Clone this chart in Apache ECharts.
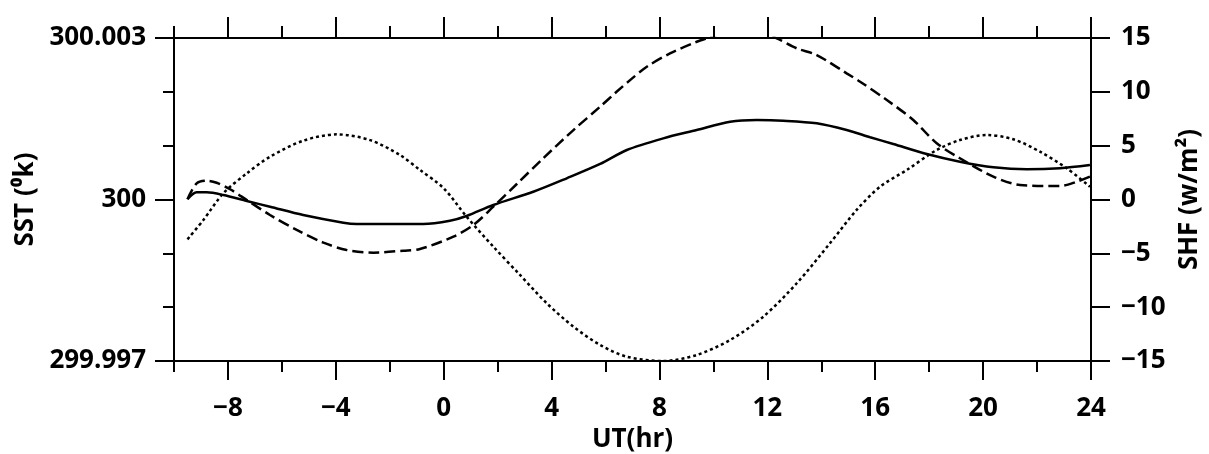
<!DOCTYPE html>
<html>
<head>
<meta charset="utf-8">
<script src="https://cdn.jsdelivr.net/npm/echarts@6/dist/echarts.min.js"></script>
<style>
html,body{margin:0;padding:0;background:#fff;}
#chart{width:1209px;height:454px;}
</style>
</head>
<body>
<div id="chart"></div>
<script>
// UT (hr) sample positions and values
const sstHours = [-9.5, -9.16, -8.79, -8.17, -7.3, -6.44, -5.21, -3.72, -3.23, -1.25, -0.76, 0.23, 0.85, 1.84, 3.32, 4.56, 5.8, 6.79, 8.14, 9.38, 10.62, 11.61, 12.59, 13.83, 14.94, 15.81, 16.67, 17.91, 19.14, 20.38, 21.62, 22.85, 23.96];
const sstValues = [300.000004, 300.000134, 300.000134, 300.000084, 299.999972, 299.999866, 299.999712, 299.99957, 299.999546, 299.999546, 299.999546, 299.999606, 299.999694, 299.999898, 300.000144, 300.000394, 300.00066, 300.00092, 300.001136, 300.00129, 300.001444, 300.001476, 300.001464, 300.001416, 300.00129, 300.001156, 300.00103, 300.000844, 300.000702, 300.000598, 300.00056, 300.00058, 300.00064];

const shfHours = [-9.5, -9.16, -8.79, -8.42, -7.92, -7.3, -6.44, -5.45, -4.46, -3.6, -2.61, -1.5, -0.88, 0.36, 1.1, 1.84, 2.71, 3.69, 4.81, 5.8, 6.41, 6.91, 7.53, 8.39, 9.38, 9.87, 10.5, 11.1, 11.7, 12.35, 13.09, 13.83, 14.94, 15.44, 16.43, 17.41, 18.28, 19.14, 20.38, 21.37, 22.85, 23.47, 23.96];
const shfValues = [0.02, 1.5, 1.75, 1.56, 0.95, -0.05, -1.44, -2.83, -4.01, -4.69, -4.94, -4.75, -4.6, -3.45, -2.37, -0.67, 1.44, 3.83, 6.45, 8.62, 10.01, 11.09, 12.33, 13.57, 14.65, 15.06, 15.6, 15.8, 15.6, 14.97, 14.04, 13.42, 11.72, 10.94, 9.24, 7.38, 5.22, 3.83, 2.12, 1.35, 1.25, 1.65, 2.12];

const dotHours = [-9.5, -8.91, -8.17, -7.3, -6.44, -5.21, -3.97, -2.73, -1.62, -0.88, 0.0, 0.85, 1.84, 2.83, 3.82, 4.81, 5.8, 6.79, 8.14, 9.38, 10.62, 11.85, 13.09, 14.32, 15.31, 16.18, 17.17, 18.28, 19.14, 20.13, 21.12, 22.11, 23.1, 23.96];
const dotValues = [-3.7, -1.9, 0.58, 2.43, 3.97, 5.46, 6.05, 5.52, 4.13, 2.74, 1.04, -1.6, -4.38, -7.01, -9.64, -11.81, -13.51, -14.6, -15.0, -14.44, -13.05, -10.88, -7.78, -4.07, -0.97, 1.19, 2.74, 4.6, 5.52, 5.99, 5.59, 4.44, 2.9, 1.19];

const xMajorTicks = [-8, -4, 0, 4, 8, 12, 16, 20, 24];

const pair = (xs, ys) => xs.map((x, i) => [x, ys[i]]);
const fmtNum = v => (v < 0 ? '\u2212' + String(-v) : String(v));

const FONT = 'Open Sans';
const black = '#000';
const lblStyle = {color: black, fontFamily: FONT, fontSize: 26, fontWeight: 'bold'};
const lineW = 2;

function xAxisBase(pos) {
  return {
    type: 'value', position: pos, min: -10, max: 24, interval: 2,
    axisLine: {show: true, onZero: false, lineStyle: {color: black, width: lineW}},
    axisTick: {show: true, inside: false, length: 11, lineStyle: {color: black, width: lineW}},
    axisLabel: {show: false},
    splitLine: {show: false}
  };
}

const chart = echarts.init(document.getElementById('chart'), null, {renderer: 'canvas'});
chart.setOption({
  animation: false,
  backgroundColor: '#fff',
  grid: {left: 174, right: 118, top: 38, bottom: 93, containLabel: false, outerBoundsMode: 'none'},
  xAxis: [
    Object.assign(xAxisBase('bottom'), {
      name: 'UT(hr)', nameLocation: 'middle', nameGap: 64,
      nameTextStyle: lblStyle,
      axisLabel: {show: true, margin: 35, customValues: xMajorTicks,
        formatter: v => fmtNum(v), ...lblStyle}
    }),
    Object.assign(xAxisBase('bottom'), {
      axisLine: {show: false, onZero: false},
      axisTick: {show: true, length: 19, customValues: xMajorTicks, lineStyle: {color: black, width: lineW}}
    }),
    Object.assign(xAxisBase('top'), {axisTick: {show: true, length: 12, lineStyle: {color: black, width: lineW}}}),
    Object.assign(xAxisBase('top'), {
      axisLine: {show: false, onZero: false},
      axisTick: {show: true, length: 21, customValues: xMajorTicks, lineStyle: {color: black, width: lineW}}
    })
  ],
  yAxis: [
    {
      type: 'value', position: 'left', min: 299.997, max: 300.003, interval: 0.003,
      name: 'SST (\u2070k)', nameLocation: 'middle', nameRotate: 90, nameGap: 132,
      nameTextStyle: lblStyle,
      axisLine: {show: true, onZero: false, lineStyle: {color: black, width: lineW}},
      axisTick: {show: true, length: 19, lineStyle: {color: black, width: lineW}},
      minorTick: {show: true, splitNumber: 3, length: 11, lineStyle: {color: black, width: lineW}},
      axisLabel: {show: true, margin: 28, formatter: v => String(+v.toFixed(3)), ...lblStyle},
      splitLine: {show: false}, minorSplitLine: {show: false}
    },
    {
      type: 'value', position: 'right', min: -15, max: 15, interval: 5,
      name: 'SHF (w/m\u00b2)', nameLocation: 'middle', nameRotate: 90, nameGap: 86,
      nameTextStyle: lblStyle,
      axisLine: {show: true, onZero: false, lineStyle: {color: black, width: lineW}},
      axisTick: {show: true, length: 19, lineStyle: {color: black, width: lineW}},
      axisLabel: {show: true, margin: 30, formatter: v => fmtNum(v), ...lblStyle},
      splitLine: {show: false}
    }
  ],
  series: [
    {
      name: 'SST', type: 'line', xAxisIndex: 0, yAxisIndex: 0,
      data: pair(sstHours, sstValues), showSymbol: false, smooth: 0.3,
      lineStyle: {color: '#000', width: 2.5, type: 'solid'}, clip: true
    },
    {
      name: 'SHF', type: 'line', xAxisIndex: 0, yAxisIndex: 1,
      data: pair(shfHours, shfValues), showSymbol: false, smooth: 0.3,
      lineStyle: {color: '#000', width: 2.5, type: [11, 5]}, clip: true
    },
    {
      name: 'Forcing', type: 'line', xAxisIndex: 0, yAxisIndex: 1,
      data: pair(dotHours, dotValues), showSymbol: false, smooth: 0.3,
      lineStyle: {color: '#000', width: 2.5, type: [3, 3]}, clip: true
    }
  ]
});
</script>
</body>
</html>
